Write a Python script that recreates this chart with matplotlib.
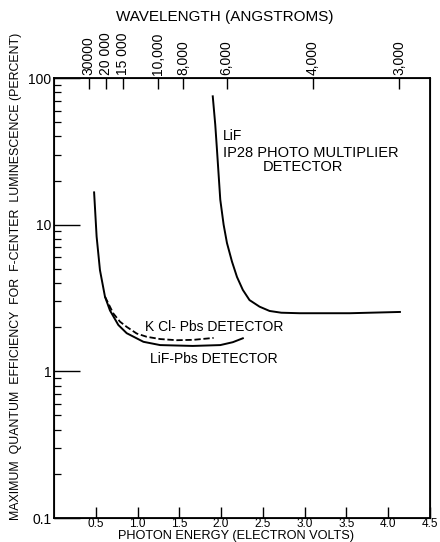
import matplotlib
matplotlib.use("Agg")
import matplotlib.pyplot as plt
from matplotlib import font_manager
from matplotlib.ticker import LogLocator, NullFormatter

# ---------------- data ----------------
lif_pbs_e = [0.48, 0.51, 0.55, 0.61, 0.67, 0.77, 0.87, 1.07, 1.27, 1.66, 1.99, 2.14, 2.26]
lif_pbs_q = [16.6, 8.3, 4.9, 3.23, 2.6, 2.07, 1.82, 1.59, 1.51, 1.49, 1.51, 1.58, 1.68]

kcl_pbs_e = [0.61, 0.71, 0.79, 0.87, 0.99, 1.11, 1.27, 1.47, 1.67, 1.91]
kcl_pbs_q = [3.23, 2.48, 2.18, 2.01, 1.81, 1.72, 1.66, 1.63, 1.64, 1.69]

ip28_e = [1.90, 1.93, 1.95, 1.99, 2.03, 2.07, 2.13, 2.19, 2.26, 2.34, 2.46, 2.58, 2.72, 2.94, 3.54, 4.14]
ip28_q = [75, 48, 32.7, 14.8, 10.0, 7.5, 5.6, 4.4, 3.59, 3.06, 2.76, 2.58, 2.51, 2.49, 2.49, 2.54]

x_ticks = [0.5, 1.0, 1.5, 2.0, 2.5, 3.0, 3.5, 4.0, 4.5]
x_ticklabels = ["0.5", "1.0", "1.5", "2.0", "2.5", "3.0", "3.5", "4.0", "4.5"]
y_ticks = [0.1, 1, 10, 100]
y_ticklabels = ["0.1", "1", "10", "100"]
wl_values = [30000, 20000, 15000, 10000, 8000, 6000, 4000, 3000]
wl_labels = ["30000", "20 000", "15 000", "10,000", "8,000", "6,000", "4,000", "3,000"]
HC = 12398.4  # eV * Angstrom

# ---------------- fonts ----------------
avail = {f.name for f in font_manager.fontManager.ttflist}
fam = "Liberation Sans Narrow" if "Liberation Sans Narrow" in avail else "Liberation Sans"
plt.rcParams["font.family"] = [fam, "DejaVu Sans"]

W, H = 440, 542
fig = plt.figure(figsize=(W / 100, H / 100), dpi=100)
ax = fig.add_axes([54 / W, 1 - 518 / H, (430 - 54) / W, (518 - 78) / H])

ax.plot(lif_pbs_e, lif_pbs_q, color="black", lw=1.4)
ax.plot(kcl_pbs_e, kcl_pbs_q, color="black", lw=1.3, ls=(0, (3.5, 1.5)))
ax.plot(ip28_e, ip28_q, color="black", lw=1.4)

ax.set_yscale("log")
ax.set_xlim(0, 4.5)
ax.set_ylim(0.1, 100)

ax.set_xticks(x_ticks)
ax.set_xticklabels(x_ticklabels, fontsize=8.5)
ax.set_yticks(y_ticks)
ax.set_yticklabels(y_ticklabels, fontsize=10)
ax.yaxis.set_minor_locator(LogLocator(base=10, subs=range(2, 10)))
ax.yaxis.set_minor_formatter(NullFormatter())

ax.tick_params(axis="x", direction="in", length=8, width=1.0, pad=0)
ax.tick_params(axis="y", which="major", direction="in", length=19, width=1.0, pad=2)
ax.tick_params(axis="y", which="minor", direction="in", length=5, width=0.9)

for s in ax.spines.values():
    s.set_linewidth(1.3)

fig.text(236 / W, 1 - 536 / H, "PHOTON ENERGY (ELECTRON VOLTS)", fontsize=9.2,
         ha="center", va="center")
fig.text(16 / W, 1 - 276 / H,
         "MAXIMUM  QUANTUM  EFFICIENCY  FOR  F-CENTER  LUMINESCENCE (PERCENT)",
         fontsize=8.9, rotation=90, ha="center", va="center")

# top wavelength axis
top = ax.twiny()
top.set_xlim(ax.get_xlim())
top.set_xticks([HC / w for w in wl_values])
top.set_xticklabels(wl_labels, rotation=90, fontsize=10)
top.tick_params(axis="x", direction="in", length=8, width=1.0, pad=2)
fig.text(225 / W, 1 - 17 / H, "WAVELENGTH (ANGSTROMS)", fontsize=11,
         ha="center", va="center")

# annotations
ax.text(2.02, 40, "LiF", fontsize=10, va="center", ha="left")
ax.text(2.02, 30.6, "IP28 PHOTO MULTIPLIER", fontsize=10.5, va="center", ha="left")
ax.text(2.5, 24.6, "DETECTOR", fontsize=10.5, va="center", ha="left")
ax.text(1.09, 2.0, "K Cl- Pbs DETECTOR", fontsize=10, va="center", ha="left")
ax.text(1.15, 1.22, "LiF-Pbs DETECTOR", fontsize=10, va="center", ha="left")

fig.savefig("out.png", dpi=100)
